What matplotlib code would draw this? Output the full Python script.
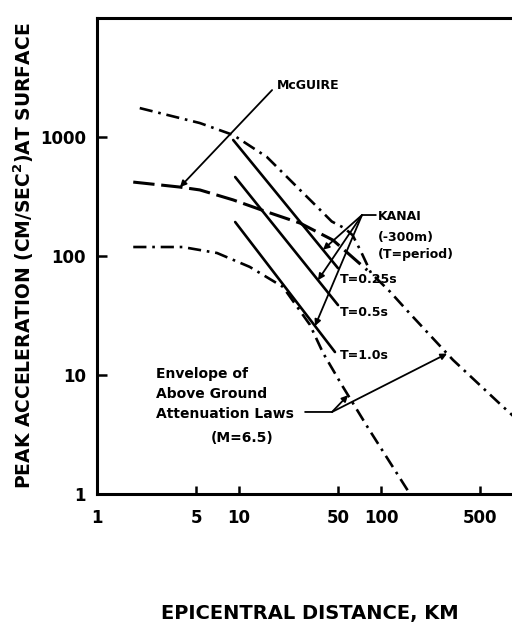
import numpy as np
import matplotlib.pyplot as plt
from matplotlib.ticker import FixedLocator, FixedFormatter, NullLocator

plt.rcParams['font.family'] = ['DejaVu Sans']
plt.rcParams['font.weight'] = 'bold'
plt.rcParams['axes.labelweight'] = 'bold'

# envelope of above ground attenuation laws (M=6.5), upper and lower
env_hi_km = [2.0, 5.3, 9.1, 15.7, 26.9, 37.3, 45, 55, 63, 72, 85, 116, 152, 321, 690, 1000]
env_hi_acc = [1750, 1310, 1040, 680, 359, 244, 195, 172, 150, 110, 72, 50, 35, 13.4, 5.7, 3.8]
env_lo_km = [1.8, 4.0, 7.0, 11.9, 20.4, 31.6, 39.1, 53.1, 81, 160, 200]
env_lo_acc = [119, 119, 106, 81, 55, 26.4, 15.3, 8.2, 3.6, 1.0, 0.7]

# McGuire
mcg_km = [1.8, 3.8, 5.3, 9.1, 15.7, 26.9, 45.9, 80]
mcg_acc = [418, 380, 359, 296, 235, 189, 136, 76]

# Kanai (-300m), T = period
kanai_T = ['0.25', '0.5', '1.0']
kanai_km = [[9.1, 49.8], [9.4, 49.8], [9.4, 47.4]]
kanai_acc = [[944, 79], [461, 38.7], [193, 15.6]]

xticks = [1, 5, 10, 50, 100, 500]
yticks = [1, 10, 100, 1000]


def on_curve(xs, ys, x):
    return 10 ** np.interp(np.log10(x), np.log10(xs), np.log10(ys))


fig = plt.figure(figsize=(5.12, 6.22), dpi=100)
ax = fig.add_axes([97 / 512, 128 / 622, 426 / 512, 476 / 622])
ax.set_xscale('log')
ax.set_yscale('log')
ax.set_xlim(1, 1000)
ax.set_ylim(1, 1e4)

dd = (5.0, 2.2, 1.0, 2.2)
ax.plot(env_hi_km, env_hi_acc, color='k', lw=1.9, dashes=dd)
ax.plot(env_lo_km, env_lo_acc, color='k', lw=1.9, dashes=dd)
ax.plot(mcg_km, mcg_acc, color='k', lw=2.2, dashes=(7, 2.2))
for km, acc in zip(kanai_km, kanai_acc):
    ax.plot(km, acc, color='k', lw=1.9, solid_capstyle='round')

# ticks / spines
for s in ax.spines.values():
    s.set_linewidth(2.2)
ax.xaxis.set_major_locator(FixedLocator(xticks))
ax.xaxis.set_major_formatter(FixedFormatter([str(t) for t in xticks]))
ax.yaxis.set_major_locator(FixedLocator(yticks))
ax.yaxis.set_major_formatter(FixedFormatter([str(t) for t in yticks]))
ax.xaxis.set_minor_locator(NullLocator())
ax.yaxis.set_minor_locator(NullLocator())
ax.tick_params(axis='both', direction='in', width=1.8, labelsize=12, right=True)
ax.tick_params(axis='x', length=6, pad=11)
ax.tick_params(axis='y', length=7, pad=8)

ax.set_xlabel('EPICENTRAL DISTANCE, KM', fontsize=14, labelpad=55)
ax.set_ylabel('PEAK ACCELERATION (CM/SEC$^\\mathbf{2}$)AT SURFACE', fontsize=13.5, labelpad=3)

arw = dict(arrowstyle='-|>', color='k', lw=1.3, mutation_scale=9, shrinkA=0, shrinkB=0)
seg = dict(arrowstyle='-', color='k', lw=1.3, shrinkA=0, shrinkB=0)

# McGuire label
ax.text(18.5, 2690, 'McGUIRE', fontsize=9, va='center', ha='left')
ax.annotate('', xy=(3.84, on_curve(mcg_km, mcg_acc, 3.84)), xytext=(17.1, 2480), arrowprops=arw)

# Kanai label
ax.text(95, 213, 'KANAI', fontsize=9, va='center', ha='left')
ax.text(95, 142, '(-300m)', fontsize=9, va='center', ha='left')
ax.text(95, 102, '(T=period)', fontsize=9, va='center', ha='left')
junction = (73.5, 221)
ax.annotate('', xy=junction, xytext=(92, 221), arrowprops=seg)
for km, acc, xt in zip(kanai_km, kanai_acc, [39, 36, 34.3]):
    ax.annotate('', xy=(xt, on_curve(km, acc, xt)), xytext=junction, arrowprops=arw)

for T, y in zip(kanai_T, [62.9, 33.2, 14.7]):
    ax.text(51.4, y, 'T=' + T + 's', fontsize=9, va='center', ha='left')

# envelope label
ax.text(2.6, 10.2, 'Envelope of', fontsize=10, va='center', ha='left')
ax.text(2.6, 6.9, 'Above Ground', fontsize=10, va='center', ha='left')
ax.text(2.6, 4.7, 'Attenuation Laws', fontsize=10, va='center', ha='left')
ax.text(10.5, 2.95, '(M=6.5)', fontsize=10, va='center', ha='center')
elbow = (45.2, 4.89)
ax.annotate('', xy=elbow, xytext=(29.2, 4.89), arrowprops=seg)
ax.annotate('', xy=(58.6, on_curve(env_lo_km, env_lo_acc, 58.6)), xytext=elbow, arrowprops=arw)
ax.annotate('', xy=(292, on_curve(env_hi_km, env_hi_acc, 292)), xytext=elbow, arrowprops=arw)

fig.savefig('out.png', dpi=100)
